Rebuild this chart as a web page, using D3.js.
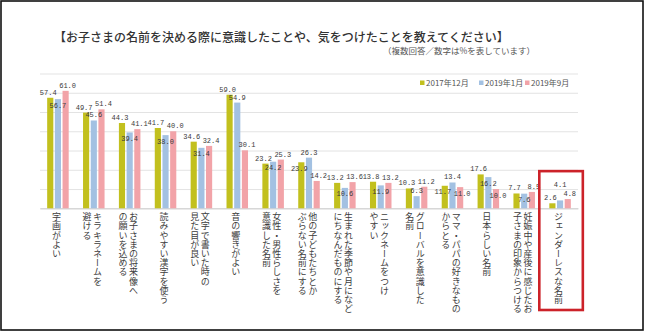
<!DOCTYPE html>
<html>
<head>
<meta charset="utf-8">
<script src="https://cdn.jsdelivr.net/npm/d3@7"></script>
<style>
  body { margin: 0; background: #fff; }
  svg { display: block; font-family: "Noto Sans CJK JP", "Noto Sans", sans-serif; }
</style>
</head>
<body>
<div id="chart"></div>
<script>
// categories, each split into the columns of its vertical label
const categories = [
  ["字画がよい"],
  ["キラキラネームを", "避ける"],
  ["お子さまの将来像へ", "の願いを込める"],
  ["読みやすい漢字を使う"],
  ["文字で書いた時の", "見た目が良い"],
  ["音の響きがよい"],
  ["女性・男性らしさを", "意識した名前"],
  ["他の子どもたちとか", "ぶらない名前にする"],
  ["生まれた季節や月になど", "にちなんだものにする"],
  ["ニックネームをつけ", "やすい"],
  ["グローバルを意識した", "名前"],
  ["ママ・パパの好きなもの", "からとる"],
  ["日本らしい名前"],
  ["妊娠中や産後に感じたお", "子さまの印象からつける"],
  ["ジェンダーレスな名前"]
];
const seriesNames = ["2017年12月", "2019年1月", "2019年9月"];
const dec2017 = [57.4, 49.7, 44.3, 41.7, 34.6, 59.0, 23.2, 23.9, 13.2, 13.8, 10.3, 11.7, 17.6, 7.7, 2.6];
const jan2019 = [56.7, 45.6, 39.4, 38.0, 31.4, 54.9, 24.2, 26.3, 10.6, 11.9, 6.3, 13.4, 16.2, 7.6, 4.1];
const sep2019 = [61.0, 51.4, 41.1, 40.0, 32.4, 30.1, 25.3, 14.2, 13.6, 13.2, 11.2, 11.0, 10.0, 8.5, 4.8];
const yTicks = [0, 10, 20, 30, 40, 50, 60, 70];

const colors = ["#c2c01e", "#a3c1e2", "#f2a3a8"];
const seriesValues = [dec2017, jan2019, sep2019];

const W = 650, H = 332;
const margin = {top: 73.5, right: 72, bottom: 123.7, left: 40};
const width = W - margin.left - margin.right,
      height = H - margin.top - margin.bottom;

const svg = d3.select("#chart").append("svg")
    .attr("width", W)
    .attr("height", H);

// outer frame
svg.append("rect")
    .attr("x", 1).attr("y", 1)
    .attr("width", 642).attr("height", 329)
    .attr("fill", "none")
    .attr("stroke", "#111")
    .attr("stroke-width", 1.6);

// title + note
svg.append("text")
    .attr("x", 54).attr("y", 42)
    .attr("fill", "#333")
    .style("font-size", "12px")
    .style("font-weight", 500)
    .text("【お子さまの名前を決める際に意識したことや、気をつけたことを教えてください】");

svg.append("text")
    .attr("x", 535).attr("y", 54)
    .attr("text-anchor", "end")
    .attr("fill", "#555")
    .style("font-size", "8.5px")
    .text("（複数回答／数字は%を表しています）");

const chart = svg.append("g")
    .attr("transform", "translate(" + margin.left + "," + margin.top + ")");

const x = d3.scaleBand()
    .domain(d3.range(categories.length))
    .range([0, width])
    .paddingInner(0.4)
    .paddingOuter(0.2);

const xSub = d3.scaleBand()
    .domain(d3.range(seriesNames.length))
    .range([0, x.bandwidth()])
    .paddingInner(0.2);

const y = d3.scaleLinear()
    .domain([0, 70])
    .range([height, 0]);

// gridlines
const grid = chart.append("g")
    .call(d3.axisLeft(y).tickValues(yTicks).tickSize(-width).tickFormat(""));
grid.select(".domain").remove();
grid.selectAll(".tick line").attr("stroke", "#dcdcdc").attr("stroke-width", 0.8);

// baseline
const xAxis = chart.append("g")
    .attr("transform", "translate(0," + height + ")")
    .call(d3.axisBottom(x).tickSize(0).tickFormat(""));
xAxis.select(".domain").attr("stroke", "#cfcfcf");

// one group per category
const groups = chart.selectAll(".cat")
    .data(categories.map((c, i) => ({i, lines: c, vals: seriesValues.map(s => s[i])})))
    .enter().append("g")
    .attr("class", "cat")
    .attr("transform", d => "translate(" + x(d.i) + ",0)");

groups.selectAll("rect")
    .data(d => d.vals)
    .enter().append("rect")
    .attr("x", (v, k) => xSub(k))
    .attr("y", v => y(v))
    .attr("width", xSub.bandwidth())
    .attr("height", v => height - y(v))
    .attr("fill", (v, k) => colors[k]);

// value labels sit above the bars; when the middle label clashes with a
// neighbour, the lower one moves inside its bar (or above, if the bar is short)
function labelYs(vals) {
  const tops = vals.map(v => y(v));
  const ys = tops.map(t => t - 3);
  const tall = k => height - tops[k] > 12;
  const clash = (a, b) => Math.abs(ys[a] - ys[b]) < 7.5;

  // middle label is the lower one of a clash
  if ((clash(0, 1) && ys[1] > ys[0]) || (clash(1, 2) && ys[1] > ys[2])) {
    if (tall(1)) ys[1] = tops[1] + 8.5;
    else ys[1] = Math.min(ys[0], ys[2]) - 9;
  }
  // a side label is the lower one
  [0, 2].forEach(k => {
    if (clash(k, 1) && ys[k] >= ys[1]) {
      if (tall(k)) ys[k] = tops[k] + 8.5;
      else ys[1] = ys[k] - 9;
    }
  });
  return ys;
}

const labelShift = [-2, 0, 2];
groups.each(function(d) {
  const ys = labelYs(d.vals);
  d3.select(this).selectAll(".val")
    .data(d.vals)
    .enter().append("text")
    .attr("class", "val")
    .attr("x", (v, k) => xSub(k) + xSub.bandwidth() / 2 + labelShift[k])
    .attr("y", (v, k) => ys[k])
    .attr("text-anchor", "middle")
    .attr("fill", "#3a3a3a")
    .style("font-family", "'Liberation Mono', monospace")
    .style("font-size", "7px")
    .text(v => d3.format(".1f")(v));
});

// vertical category labels, first column on the right
const colGap = 10.5;
groups.each(function(d) {
  const cx = x.bandwidth() / 2 - 1.5;
  const n = d.lines.length;
  d3.select(this).selectAll(".lbl")
    .data(d.lines)
    .enter().append("text")
    .attr("class", "lbl")
    .attr("x", (t, k) => cx + ((n - 1) / 2 - k) * colGap)
    .attr("y", height + 4)
    .attr("fill", "#3d3d3d")
    .style("writing-mode", "vertical-rl")
    .style("font-size", "9px")
    .style("letter-spacing", "0.2px")
    .text(t => t);
});

// highlight box around the last category
const last = categories.length - 1;
chart.append("rect")
    .attr("x", x(last) - 10)
    .attr("y", y(19.3))
    .attr("width", x.bandwidth() + 22)
    .attr("height", 310 - margin.top - y(19.3))
    .attr("fill", "none")
    .attr("stroke", "#cc2229")
    .attr("stroke-width", 2.6);

// legend
const legendX = [420, 479, 525];
const legend = svg.selectAll(".legend")
    .data(seriesNames)
    .enter().append("g")
    .attr("class", "legend")
    .attr("transform", (s, k) => "translate(" + legendX[k] + ",83)");
legend.append("rect")
    .attr("x", 0).attr("y", -2.5)
    .attr("width", 4.5).attr("height", 4.5)
    .attr("fill", (s, k) => colors[k]);
legend.append("text")
    .attr("x", 6).attr("y", 3)
    .attr("fill", "#555")
    .style("font-size", "8px")
    .text(s => s);
</script>
</body>
</html>
